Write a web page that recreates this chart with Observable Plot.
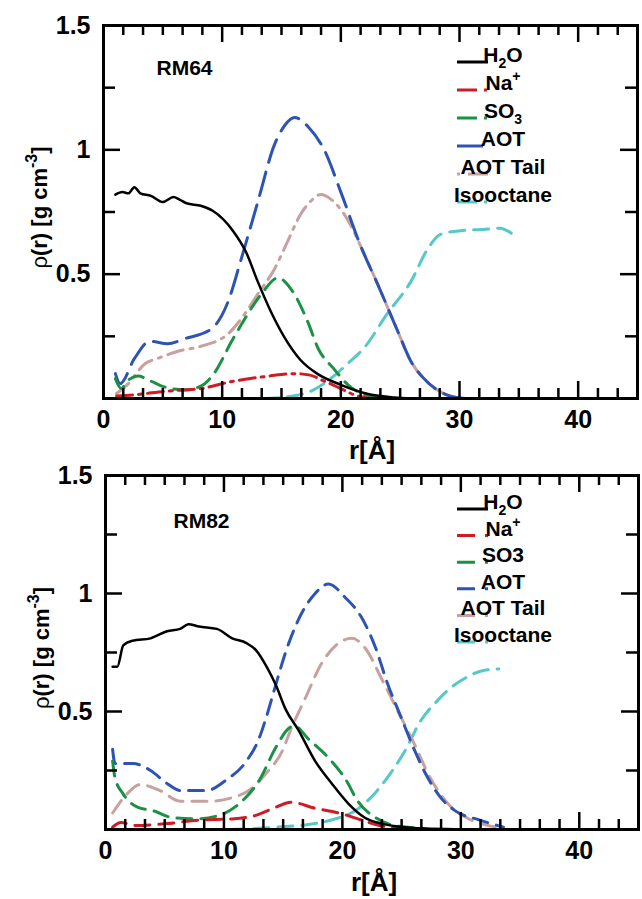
<!DOCTYPE html>
<html><head><meta charset="utf-8">
<script src="https://cdn.jsdelivr.net/npm/d3@7"></script>
<script src="https://cdn.jsdelivr.net/npm/@observablehq/plot@0.6"></script>
<style>
html,body{margin:0;padding:0;background:#fff;}
#wrap{position:relative;width:642px;height:899px;font-family:"Liberation Sans",Arial,sans-serif;}
.panel{position:absolute;left:0;width:642px;}
</style></head>
<body><div id="wrap"></div>
<script>
// ---------- tick values ----------
const xTickLabels = [0, 10, 20, 30, 40];
const xMajor = [10, 20, 30, 40];
const xMinor = [1.667, 3.333, 5, 6.667, 8.333, 11.667, 13.333, 15, 16.667, 18.333,
  21.667, 23.333, 25, 26.667, 28.333, 31.667, 33.333, 35, 36.667, 38.333, 41.667, 43.333];
const yTickLabels = [0.5, 1, 1.5];
const yMajor = [0.5, 1];
const yMinor = [0.25, 0.75, 1.25];

// ---------- series names (legend text; [text, "sub"|"sup"|""] parts) ----------
const seriesNames = ["H2O", "Na+", "SO3", "AOT", "AOT Tail", "Isooctane"];
const legendTop = [[["H",""],["2","sub"],["O",""]], [["Na",""],["+","sup"]], [["SO",""],["3","sub"]], [["AOT",""]], [["AOT Tail",""]], [["Isooctane",""]]];
const legendBottom = [[["H",""],["2","sub"],["O",""]], [["Na",""],["+","sup"]], [["SO3",""]], [["AOT",""]], [["AOT Tail",""]], [["Isooctane",""]]];

// ---------- RM64 data [r (Å), rho (g cm^-3)] ----------
const rm64_H2O = [[1.0,0.82],[1.6,0.83],[2.1,0.825],[2.6,0.85],[3.1,0.825],[4.0,0.815],[5.0,0.79],[5.9,0.81],[6.4,0.80],[7.0,0.785],[8.2,0.775],[9.2,0.755],[10.9,0.675],[12.0,0.59],[13.0,0.47],[14.1,0.35],[15.2,0.25],[16.6,0.155],[18.0,0.10],[20.0,0.055],[22.3,0.018],[24.5,0.004],[26.0,0.0]];
const rm64_Na = [[1.1,0.01],[2.6,0.015],[5.4,0.03],[8.2,0.04],[11.0,0.07],[13.9,0.09],[16.1,0.10],[17.3,0.095],[18.6,0.07],[20.0,0.04],[21.4,0.01],[22.5,0.0]];
const rm64_SO3 = [[1.0,0.08],[1.5,0.04],[2.0,0.07],[2.9,0.09],[4.0,0.07],[4.9,0.05],[6.8,0.035],[8.2,0.05],[9.3,0.10],[10.8,0.23],[11.9,0.32],[13.3,0.42],[14.7,0.485],[15.8,0.44],[17.2,0.31],[18.1,0.20],[19.4,0.12],[20.6,0.055],[22.3,0.01],[23.5,0.0]];
const rm64_AOT = [[1.0,0.10],[1.4,0.06],[2.6,0.16],[3.9,0.23],[5.4,0.22],[6.8,0.24],[9.1,0.28],[10.5,0.39],[11.6,0.56],[13.0,0.79],[14.4,1.02],[15.3,1.10],[16.1,1.13],[17.3,1.09],[18.6,1.0],[20.0,0.83],[21.7,0.61],[23.1,0.46],[24.8,0.27],[25.9,0.15],[27.0,0.08],[28.1,0.035],[29.2,0.01],[30.5,0.0]];
const rm64_Tail = [[1.1,0.02],[2.1,0.06],[3.5,0.14],[4.5,0.16],[6.3,0.19],[8.2,0.21],[10.5,0.26],[11.9,0.34],[13.0,0.42],[14.4,0.52],[15.5,0.63],[16.6,0.74],[17.5,0.795],[18.3,0.82],[19.2,0.80],[20.8,0.70],[21.7,0.61],[23.1,0.46],[24.8,0.27],[25.9,0.15],[27.0,0.08],[28.1,0.035],[29.2,0.01],[30.5,0.0]];
const rm64_Iso = [[13.5,0.0],[15.2,0.005],[17.5,0.03],[19.4,0.09],[20.8,0.15],[21.9,0.20],[23.9,0.34],[25.9,0.47],[27.3,0.60],[28.4,0.66],[30.1,0.675],[32.0,0.68],[33.4,0.685],[34.5,0.66]];

// ---------- RM82 data ----------
const rm82_H2O = [[0.6,0.69],[1.0,0.69],[1.5,0.78],[2.3,0.80],[3.8,0.81],[5.2,0.84],[6.3,0.85],[7.0,0.87],[7.9,0.86],[9.4,0.85],[10.7,0.81],[11.9,0.79],[12.7,0.76],[13.6,0.69],[14.4,0.61],[15.2,0.51],[16.3,0.42],[17.7,0.29],[19.1,0.195],[20.5,0.11],[21.9,0.05],[23.3,0.025],[24.7,0.013],[27.0,0.004],[30.0,0.001],[33.0,0.0]];
const rm82_Na = [[0.6,0.01],[1.3,0.03],[2.5,0.017],[5.2,0.025],[7.9,0.04],[10.7,0.045],[12.7,0.06],[14.4,0.095],[15.7,0.115],[17.7,0.09],[19.7,0.07],[21.3,0.045],[23.3,0.015],[24.7,0.005]];
const rm82_SO3 = [[0.6,0.29],[0.8,0.22],[1.5,0.15],[2.7,0.095],[4.0,0.08],[5.7,0.05],[7.7,0.045],[9.6,0.06],[11.3,0.11],[13.0,0.21],[14.4,0.35],[15.5,0.43],[15.9,0.44],[17.2,0.38],[18.8,0.305],[20.3,0.21],[21.3,0.12],[22.8,0.05],[24.1,0.02],[25.5,0.01],[27.0,0.003]];
const rm82_AOT = [[0.6,0.34],[0.8,0.28],[2.3,0.28],[3.8,0.25],[5.2,0.195],[6.3,0.165],[8.5,0.165],[10.2,0.21],[11.9,0.29],[13.0,0.39],[13.6,0.48],[14.3,0.60],[15.2,0.75],[16.3,0.89],[17.7,1.0],[18.8,1.04],[20.3,0.98],[21.6,0.90],[22.8,0.77],[23.8,0.62],[25.0,0.47],[26.1,0.335],[27.2,0.22],[28.3,0.135],[29.5,0.08],[31.6,0.04],[33.6,0.01]];
const rm82_Tail = [[0.6,0.07],[1.8,0.15],[2.9,0.19],[4.6,0.165],[6.3,0.12],[8.8,0.12],[10.7,0.135],[12.1,0.165],[13.6,0.24],[14.9,0.33],[15.7,0.43],[16.9,0.56],[18.2,0.70],[19.7,0.79],[20.8,0.81],[21.9,0.77],[23.3,0.64],[24.7,0.50],[26.1,0.36],[27.4,0.22],[28.9,0.11],[30.5,0.05],[33.0,0.01]];
const rm82_Iso = [[10.5,0.0],[14.4,0.01],[17.7,0.025],[19.4,0.045],[21.1,0.08],[22.4,0.135],[23.8,0.22],[25.3,0.335],[26.6,0.46],[28.0,0.545],[28.9,0.59],[30.5,0.645],[32.0,0.675],[33.2,0.68]];

// ---------- styles ----------
const colors = ["#000000", "#cf1b24", "#1a9243", "#2e54b3", "#c9a0a0", "#55c8c8"];
const widths = [2.5, 3, 3, 3, 3, 3];
const dashTop = [null, "16,6,3,6", "15,9", "24,10", "16,7,3,7", "15,9"];
const dashBottom = [null, "15,9", "15,9", "15,9", "15,9", "15,9"];
const legDashTop = [null, "20,7,3,20", "20,7,3,20", "26,20", "3,8,20", "20,7,3,20"];
const legDashBottom = [null, "18,10,3,20", "18,10,3,20", "18,10,3,20", "18,10,3,20", "18,10,3,20"];
const drawOrder = [5, 4, 3, 2, 1, 0];

function makePanel(o) {
  const W = o.width - o.ml - o.mr, H = o.height - o.mt - o.mb;
  const ty = px => px * 1.5 / H;   // pixel length -> y data units
  const tx = px => px * 45 / W;    // pixel length -> x data units
  const marks = [];
  for (const i of drawOrder) {
    marks.push(Plot.line(o.data[i], {
      x: d => d[0], y: d => d[1], stroke: colors[i], strokeWidth: widths[i],
      strokeDasharray: o.dash[i] || undefined, curve: "monotone-x"
    }));
  }
  const tk = {stroke: "black", strokeWidth: 2.5};
  marks.push(
    // inward ticks on all four sides
    Plot.ruleX(xMinor, {x: d => d, y1: 0, y2: ty(10), ...tk}),
    Plot.ruleX(xMinor, {x: d => d, y1: 1.5, y2: 1.5 - ty(10), ...tk}),
    Plot.ruleX(xMajor, {x: d => d, y1: 0, y2: ty(17), ...tk}),
    Plot.ruleX(xMajor, {x: d => d, y1: 1.5, y2: 1.5 - ty(17), ...tk}),
    Plot.ruleY(yMinor, {y: d => d, x1: 0, x2: tx(12), ...tk}),
    Plot.ruleY(yMinor, {y: d => d, x1: 45, x2: 45 - tx(12), ...tk}),
    Plot.ruleY(yMajor, {y: d => d, x1: 0, x2: tx(17), ...tk}),
    Plot.ruleY(yMajor, {y: d => d, x1: 45, x2: 45 - tx(17), ...tk}),
    Plot.frame({stroke: "black", strokeWidth: 3}),
    Plot.axisX({ticks: xTickLabels, tickSize: 0, tickPadding: 12, fontSize: 25, fontWeight: "bold", label: null, tickFormat: d => String(d)}),
    Plot.axisY({ticks: yTickLabels, tickSize: 0, tickPadding: 13, fontSize: 25, fontWeight: "bold", label: null, tickFormat: d => String(d)}),
    Plot.text([o.tag], {text: d => d, frameAnchor: "top-left", dx: o.tagDx, dy: o.tagDy, textAnchor: "start", lineAnchor: "middle", fontSize: 21, fontWeight: "bold"})
  );
  const svg = Plot.plot({
    width: o.width, height: o.height,
    marginTop: o.mt, marginBottom: o.mb, marginLeft: o.ml, marginRight: o.mr,
    x: {domain: [0, 45], axis: null},
    y: {domain: [0, 1.5], axis: null},
    style: {fontFamily: "'Liberation Sans', Arial, sans-serif", color: "black", background: "white"},
    marks
  });
  const s = d3.select(svg);
  const sx = svg.scale("x"), sy = svg.scale("y");
  const x0 = sx.range[0], [yb, yt] = sy.range;
  // y axis title
  const yl = s.append("text")
    .attr("transform", `translate(${x0 - 56},${yt + (yb - yt) / 2 - 4}) rotate(-90)`)
    .attr("text-anchor", "middle").attr("font-size", 22).attr("font-weight", "bold").attr("fill", "black");
  yl.append("tspan").attr("font-weight", "normal").text("ρ");
  yl.append("tspan").text("(r) [g cm");
  yl.append("tspan").attr("font-size", 16).attr("dy", -10).text("-3");
  yl.append("tspan").attr("dy", 10).text("]");
  // x axis title
  s.append("text").attr("x", o.xlX).attr("y", o.xlY).attr("text-anchor", "middle")
    .attr("font-size", 26).attr("font-weight", "bold").attr("fill", "black").text("r[Å]");
  // legend inside the panel
  const lg = s.append("g");
  o.legend.forEach((parts, i) => {
    const cy = o.legY0 + i * o.legStep;
    lg.append("line").attr("x1", 457).attr("x2", 488).attr("y1", cy).attr("y2", cy)
      .attr("stroke", colors[i]).attr("stroke-width", 3)
      .attr("stroke-dasharray", o.legDash[i] || null);
    const t = lg.append("text").attr("x", 503).attr("y", cy).attr("dy", "0.36em")
      .attr("font-size", 21).attr("font-weight", "bold").attr("fill", "black");
    let shift = 0;
    parts.forEach(([txt, kind]) => {
      const target = kind === "sub" ? 6 : kind === "sup" ? -9 : 0;
      const sp = t.append("tspan").text(txt).attr("dy", target - shift);
      if (kind) sp.attr("font-size", 14);
      shift = target;
    });
  });
  return svg;
}

const wrap = document.getElementById("wrap");
const p1 = makePanel({
  width: 642, height: 465, mt: 25, mb: 67, ml: 103, mr: 5,
  data: [rm64_H2O, rm64_Na, rm64_SO3, rm64_AOT, rm64_Tail, rm64_Iso],
  dash: dashTop, tag: "RM64", tagDx: 53, tagDy: 43, xlX: 372, xlY: 459,
  legend: legendTop, legDash: legDashTop, legY0: 62, legStep: 28
});
const d1 = document.createElement("div"); d1.className = "panel"; d1.style.top = "0px"; d1.appendChild(p1);
wrap.appendChild(d1);

const p2 = makePanel({
  width: 642, height: 434, mt: 10, mb: 70, ml: 105, mr: 4,
  data: [rm82_H2O, rm82_Na, rm82_SO3, rm82_AOT, rm82_Tail, rm82_Iso],
  dash: dashBottom, tag: "RM82", tagDx: 68, tagDy: 46, xlX: 374, xlY: 426,
  legend: legendBottom, legDash: legDashBottom, legY0: 44, legStep: 26.6
});
const d2 = document.createElement("div"); d2.className = "panel"; d2.style.top = "465px"; d2.appendChild(p2);
wrap.appendChild(d2);
</script></body></html>
